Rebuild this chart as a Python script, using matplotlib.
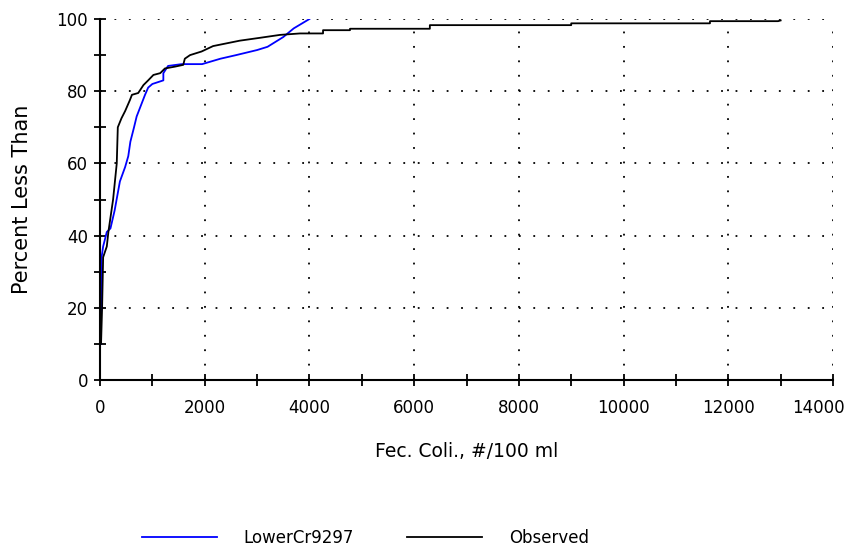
import numpy as np
import matplotlib
matplotlib.use("Agg")
import matplotlib.pyplot as plt
from matplotlib.ticker import MultipleLocator
from matplotlib.transforms import ScaledTranslation

# DATA
model_name = "LowerCr9297"
model_x = [20, 20, 30, 60, 130, 200, 280, 380, 480, 540, 580, 650, 700, 860, 920,
           1000, 1210, 1210, 1300, 1560, 1950, 2300, 2600, 3000, 3200, 3500, 3700, 4000]
model_p = [10, 20, 34, 37, 41, 42, 47, 55, 59, 62, 66, 70, 73, 79, 81,
           82, 83, 85, 87, 87.5, 87.5, 89, 90, 91.4, 92.3, 95, 97.4, 100]

obs_name = "Observed"
obs_x = [20, 40, 60, 130, 160, 250, 320, 340, 410, 480, 570, 610, 730, 830, 920,
         1020, 1150, 1240, 1430, 1590, 1620, 1720, 1940, 2160, 2670, 3060, 3440,
         3820, 4260, 4260, 4775, 4775, 6300, 6300, 9000, 9000, 11650, 11650, 12950, 13000]
obs_p = [10, 20, 34, 37, 41, 50, 60, 70, 72.5, 74.5, 77.5, 79, 79.5, 81.7, 83,
         84.5, 85, 86.3, 86.8, 87.3, 89, 90, 91, 92.5, 94, 94.8, 95.6,
         96, 96, 96.9, 96.9, 97.3, 97.3, 98.3, 98.3, 98.8, 98.8, 99.4, 99.4, 99.6]

x_ticks = np.arange(0, 14001, 2000)
y_ticks = np.arange(0, 101, 20)

fig = plt.figure(figsize=(8.5, 5.52), dpi=100)
ax = fig.add_axes([100 / 850, 1 - 380 / 552, 733 / 850, 361 / 552])

ax.plot(model_x, model_p, color="#0000ff", linewidth=1.3, label=model_name)
ax.plot(obs_x, obs_p, color="black", linewidth=1.3, label=obs_name)

ax.set_xlim(0, 14000)
ax.set_ylim(0, 100)
ax.set_xticks(x_ticks)
ax.set_yticks(y_ticks)
ax.xaxis.set_minor_locator(MultipleLocator(1000))
ax.yaxis.set_minor_locator(MultipleLocator(10))

# dotted grid at major ticks
ax.grid(True, which="major", color="black", linestyle=(0, (1, 7)), linewidth=1.3)

for side in ["top", "right"]:
    ax.spines[side].set_visible(False)
for side in ["left", "bottom"]:
    ax.spines[side].set_linewidth(1.5)

ax.tick_params(which="both", direction="inout", length=9, width=1.3,
               labelsize=12, pad=4)
ax.tick_params(axis="x", pad=9)

# nudge the last x label left so it stays inside the figure
last = ax.get_xticklabels()[-1]
last.set_transform(last.get_transform() + ScaledTranslation(-0.15, 0, fig.dpi_scale_trans))

ax.set_xlabel("Fec. Coli., #/100 ml", fontsize=13.5, labelpad=18)
ax.set_ylabel("Percent Less Than", fontsize=15, labelpad=18)

fig.legend(loc="lower center", bbox_to_anchor=(0.43, -0.018), ncol=2, frameon=False,
           fontsize=12, handlelength=4.5, handletextpad=1.6, columnspacing=3.2)

fig.savefig("out.png", dpi=100)
